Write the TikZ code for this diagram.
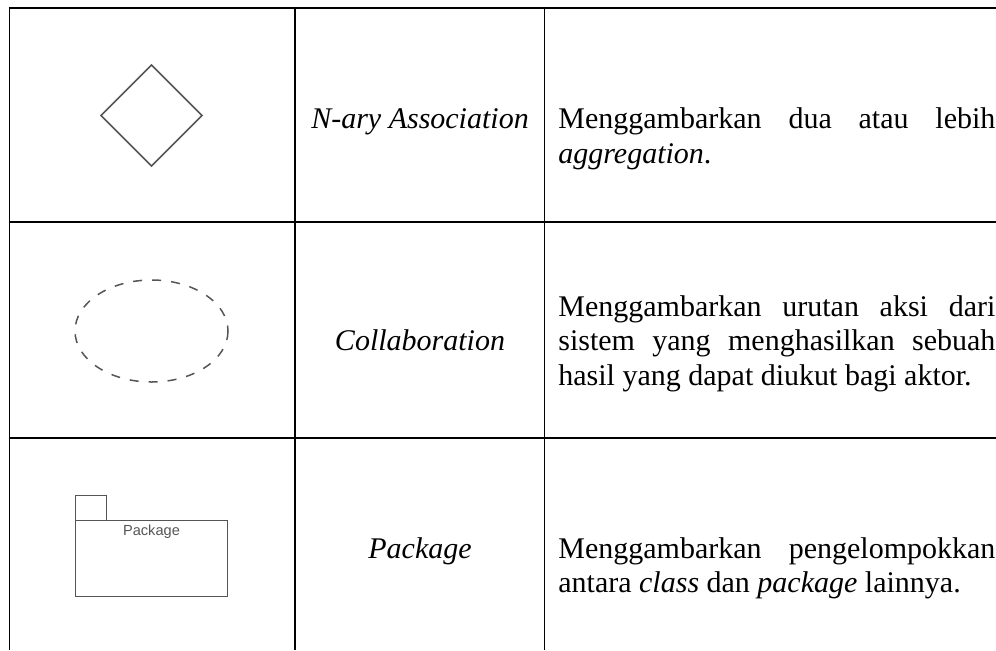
\documentclass[tikz,border=0pt]{standalone}
\usepackage{fontspec}
\setmainfont{Liberation Serif}
\newfontfamily\labelfont{Liberation Sans}
\definecolor{symgray}{HTML}{555555}
\setlength{\parindent}{0pt}
\tikzset{
  rowline/.style={line width=1pt},
  colline/.style={line width=0.8pt},
  symbol/.style={draw=symgray, line width=0.75pt},
  termtext/.style={inner sep=0pt, font=\fontsize{15}{17.25}\selectfont\itshape},
  desctext/.style={inner sep=0pt, text width=218.5pt, align=justify, font=\fontsize{15}{17.25}\selectfont},
}

\begin{document}
\begin{tikzpicture}[x=0.5pt,y=-0.5pt]
\useasboundingbox (0,0) rectangle (996,650);
% table rules
\foreach \y in {8,222,437.5}
  \draw[rowline] (8.7,\y) -- (996,\y);
\foreach \x in {9.5,295,544.5}
  \draw[colline] (\x,7) -- (\x,650);
% symbols
\draw[symbol] (151.5,65) -- (202,115.5) -- (151.5,166) -- (101,115.5) -- cycle;
\draw[symbol, dash pattern=on 4.5pt off 5pt] (151.5,331) ellipse [x radius=76.5, y radius=51];
\draw[symbol] (75.5,520.5) rectangle (227.5,596.5);
\draw[symbol] (75.5,520.5) |- (106.5,495.5) -- (106.5,520.5);
\node[text=symgray, font=\labelfont\fontsize{7.3}{8}\selectfont, inner sep=0pt] (pkglabel) at (151.5,532) {Package};
% names
\node[termtext, anchor=base] (nary) at (420,128.5) {N-ary Association};
\node[termtext, anchor=base] (collab) at (420,350.5) {Collaboration};
\node[termtext, anchor=base] (pkg) at (420,558) {Package};
% descriptions
\node[desctext, anchor=north west] (narydesc) at (558,104.3)
  {\strut Menggambarkan dua atau lebih\linebreak \textit{aggregation}.};
\node[desctext, anchor=north west] (collabdesc) at (558,291.8)
  {\strut Menggambarkan urutan aksi dari\linebreak sistem yang menghasilkan sebuah\linebreak hasil yang dapat diukut bagi aktor.};
\node[desctext, anchor=north west] (pkgdesc) at (558,533.8)
  {\strut Menggambarkan pengelompokkan\linebreak antara \textit{class} dan \textit{package} lainnya.};
\end{tikzpicture}
\end{document}
